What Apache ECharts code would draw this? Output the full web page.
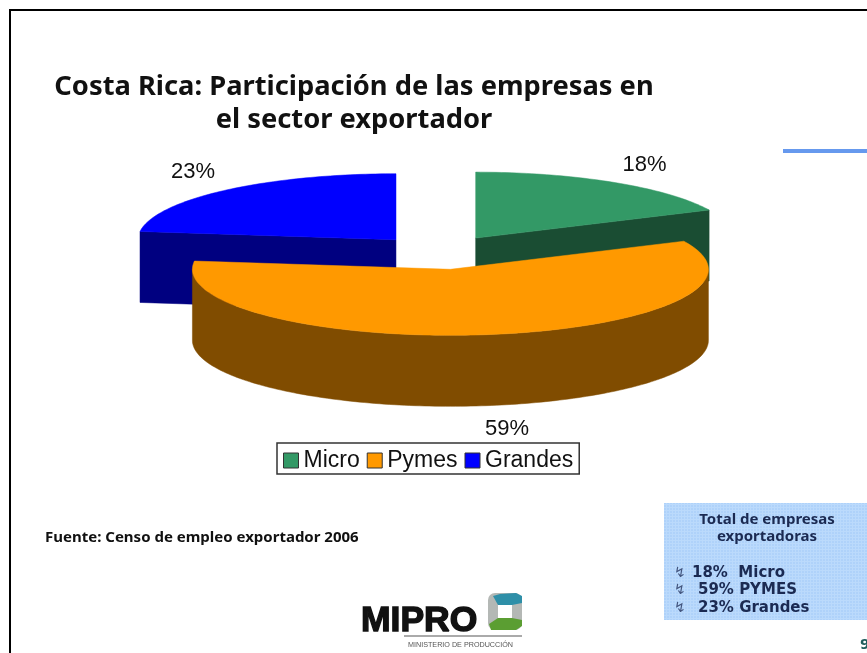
<!DOCTYPE html>
<html>
<head>
<meta charset="utf-8">
<title>Costa Rica: empresas exportadoras</title>
<style>html,body{margin:0;padding:0;background:#fff}#chart{width:867px;height:653px}</style>
<script src="https://cdn.jsdelivr.net/npm/echarts@6/dist/echarts.min.js"></script>
</head>
<body>
<div id="chart"></div>
<script>
// Company shares in the export sector, percent
const categories = ['Micro', 'Pymes', 'Grandes'];
const shares = [18, 59, 23];
const boxNames = ['Micro', 'PYMES', 'Grandes'];

// Slice colours: top face and shaded side
const topColors = ['#339966', '#FF9900', '#0000FF'];
const sideColors = ['#1A4D33', '#804C00', '#000080'];

// Projected pie geometry
const pie = { cx: 440, cy: 252.5, rx: 258, ry: 66, depth: 71, explode: 0.258 };
const labelAt = [[644.5, 165], [507, 429], [193, 172]];

const total = shares.reduce((a, b) => a + b, 0);
const angleOf = share => share / total * Math.PI * 2;

function sliceRange(index) {
  let start = 0;
  for (let i = 0; i < index; i++) start += angleOf(shares[i]);
  return [start, start + angleOf(shares[index])];
}

// Clockwise angle from twelve o'clock onto the flattened ellipse
const rim = (a, ox, oy, dy) => [ox + pie.rx * Math.sin(a), oy - pie.ry * Math.cos(a) + (dy || 0)];

function arcPoints(from, to, ox, oy, dy) {
  const n = Math.max(2, Math.ceil((to - from) / 0.02));
  const pts = [];
  for (let i = 0; i <= n; i++) pts.push(rim(from + (to - from) * i / n, ox, oy, dy));
  return pts;
}

function renderSlice(index) {
  return function (params, api) {
    const value = api.value(0);
    const [a0, a1] = sliceRange(index);
    const mid = (a0 + a1) / 2;
    const ox = pie.cx + pie.explode * pie.rx * Math.sin(mid);
    const oy = pie.cy - pie.explode * pie.ry * Math.cos(mid);
    const side = sideColors[index];
    const children = [];
    const poly = (points, fill) => children.push({
      type: 'polygon', shape: { points }, style: { fill, stroke: fill, lineWidth: 0.5 }
    });

    // Cut faces that turn toward the viewer
    if (Math.sin(a0) < 0) {
      const r = rim(a0, ox, oy);
      poly([[ox, oy], r, [r[0], r[1] + pie.depth], [ox, oy + pie.depth]], side);
    }
    if (Math.sin(a1) > 0) {
      const r = rim(a1, ox, oy);
      poly([[ox, oy], r, [r[0], r[1] + pie.depth], [ox, oy + pie.depth]], side);
    }
    // Front wall, the part of the rim between 90 and 270 degrees
    const w0 = Math.max(a0, Math.PI / 2), w1 = Math.min(a1, Math.PI * 1.5);
    if (w1 > w0) {
      poly(arcPoints(w0, w1, ox, oy).concat(arcPoints(w0, w1, ox, oy, pie.depth).reverse()), side);
    }
    // Top face
    poly([[ox, oy]].concat(arcPoints(a0, a1, ox, oy)), topColors[index]);
    // Percentage label
    children.push({
      type: 'text',
      style: {
        x: labelAt[index][0], y: labelAt[index][1], text: value + '%',
        font: '22px "Liberation Sans"', fill: '#111', align: 'center', verticalAlign: 'middle'
      }
    });
    return { type: 'group', children };
  };
}

// The largest slice is pulled toward the viewer, so it paints last
const series = categories.map((name, i) => ({
  type: 'custom',
  name,
  coordinateSystem: 'none',
  z: i === 1 ? 3 : 1,
  silent: true,
  animation: false,
  clip: false,
  itemStyle: { color: topColors[i] },
  data: [[shares[i]]],
  renderItem: renderSlice(i)
}));

const rowFont = 'bold 15px "DejaVu Sans"';
const headFont = 'bold 15px "Noto Sans"';
const boxColor = '#1B2A52';
const text = (x, y, t, font, fill, align) => ({
  type: 'text', x, y, z: 20,
  style: { text: t, font, fill, align: align || 'left', verticalAlign: 'middle' }
});

const rowX = [692, 698, 698];
const rowY = [573, 590, 608];
const boxRows = categories.map((_, i) =>
  text(rowX[i], rowY[i], shares[i] + '% ' + (i === 0 ? ' ' : '') + boxNames[i], rowFont, boxColor));
const boxBullets = categories.map((_, i) =>
  text(674, rowY[i], '↯', '14px "DejaVu Sans"', '#43557E'));

// Fine woven texture of the summary box
const weave = document.createElement('canvas');
weave.width = weave.height = 3;
const wctx = weave.getContext('2d');
wctx.fillStyle = '#AFD2FA';
wctx.fillRect(0, 0, 3, 3);
wctx.fillStyle = '#BBDAFC';
wctx.fillRect(0, 0, 3, 1);
wctx.fillRect(0, 0, 1, 3);

const graphics = [
  // Slide frame and accent rule
  { type: 'polyline', z: 10, shape: { points: [[10, 653], [10, 10], [867, 10]] }, style: { stroke: '#000', lineWidth: 2, fill: null } },
  { type: 'rect', z: 10, shape: { x: 783, y: 149, width: 84, height: 4 }, style: { fill: '#6699EE' } },

  text(45, 538, 'Fuente: Censo de empleo exportador 2006', 'bold 15px "Noto Sans"', '#111'),

  // Summary box
  { type: 'rect', z: 10, shape: { x: 664, y: 503, width: 203, height: 117 }, style: { fill: { image: weave, repeat: 'repeat' } } },
  text(767, 520, 'Total de empresas', headFont, boxColor, 'center'),
  text(767, 537, 'exportadoras', headFont, boxColor, 'center'),
  ...boxBullets,
  ...boxRows,
  text(860, 645, '9', 'bold 14px "DejaVu Sans"', '#1F5C5C'),

  // Ministry logotype
  {
    type: 'text', x: 361, y: 621, z: 20,
    style: { text: 'MIPRO', font: 'bold 35.5px "Liberation Sans"', fill: '#111', stroke: '#111', lineWidth: 1.4, verticalAlign: 'middle' }
  },
  { type: 'rect', z: 20, shape: { x: 488, y: 593, width: 34, height: 37, r: 7 }, style: { fill: '#B4B8B5' } },
  { type: 'polygon', z: 21, shape: { points: [[493, 596], [500, 594], [516, 593], [522, 596], [522, 603], [512, 605], [498, 605]] }, style: { fill: '#2E8FA8' } },
  { type: 'polygon', z: 21, shape: { points: [[491, 630], [516, 630], [522, 626], [522, 620], [512, 618], [498, 618], [489, 624]] }, style: { fill: '#5B9E32' } },
  { type: 'rect', z: 22, shape: { x: 498, y: 605, width: 14, height: 13 }, style: { fill: '#fff' } },
  { type: 'rect', z: 20, shape: { x: 404, y: 635, width: 118, height: 2 }, style: { fill: '#AAAAAA' } },
  text(408, 645, 'MINISTERIO DE PRODUCCIÓN', '7.2px "Liberation Sans"', '#555')
];

const chart = echarts.init(document.getElementById('chart'), null, { renderer: 'canvas' });
chart.setOption({
  animation: false,
  backgroundColor: '#fff',
  title: {
    text: 'Costa Rica: Participación de las empresas en\nel sector exportador',
    left: 349,
    top: 66,
    textAlign: 'center',
    textStyle: { fontFamily: 'Noto Sans', fontWeight: 700, fontSize: 27.3, lineHeight: 33, color: '#111' }
  },
  legend: {
    data: categories,
    left: 277,
    top: 443,
    orient: 'horizontal',
    selectedMode: false,
    icon: 'rect',
    itemWidth: 15,
    itemHeight: 15,
    itemGap: 7,
    padding: [6, 6, 2, 6],
    borderColor: '#333',
    borderWidth: 1.5,
    itemStyle: { borderColor: '#333', borderWidth: 1 },
    textStyle: { fontFamily: 'Liberation Sans', fontSize: 23, color: '#111' }
  },
  series,
  graphic: graphics
});
</script>
</body>
</html>
